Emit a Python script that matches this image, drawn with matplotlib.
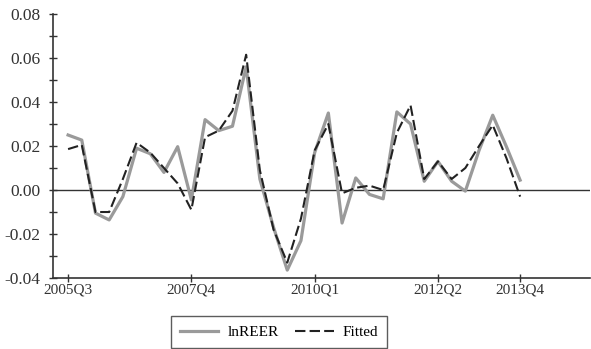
import numpy as np
import matplotlib
matplotlib.use('Agg')
import matplotlib.pyplot as plt

plt.rcParams['font.family'] = ['Liberation Serif', 'DejaVu Serif']

# quarters 2005Q3 .. 2013Q4
quarters = []
for yr in range(2005, 2014):
    for q in range(1, 5):
        if yr == 2005 and q < 3:
            continue
        quarters.append('%dQ%d' % (yr, q))

lnreer = [0.025, 0.0227, -0.0105, -0.0136, -0.003, 0.019, 0.0165, 0.008,
          0.0197, -0.0045, 0.032, 0.027, 0.029, 0.056, 0.005, -0.017,
          -0.0364, -0.023, 0.017, 0.035, -0.015, 0.0055, -0.002, -0.004,
          0.0355, 0.030, 0.004, 0.013, 0.004, -0.0005, 0.018, 0.034,
          0.0197, 0.0045]
fitted = [0.0186, 0.0205, -0.010, -0.010, 0.005, 0.0215, 0.017, 0.010,
          0.003, -0.009, 0.024, 0.027, 0.036, 0.0615, 0.009, -0.018,
          -0.033, -0.013, 0.018, 0.030, -0.0015, 0.001, 0.002, 0.000,
          0.026, 0.0385, 0.005, 0.013, 0.005, 0.010, 0.020, 0.0295,
          0.0145, -0.003]

tick_labels = ['2005Q3', '2007Q4', '2010Q1', '2012Q2', '2013Q4']
tick_pos = [quarters.index(t) for t in tick_labels]

x = np.arange(len(quarters))

fig = plt.figure(figsize=(5.91, 3.49), dpi=100)
ax = fig.add_axes([0.0897, 0.2034, 0.9086, 0.7564])

ax.axhline(0, color='#333333', linewidth=1.0)
ax.plot(x, lnreer, color='#9a9a9a', linewidth=2.3, label='lnREER')
ax.plot(x, fitted, color='#222222', linewidth=1.5, dashes=(5, 2), label='Fitted')

ax.set_xlim(-1.1, 38.1)
ax.set_ylim(-0.04, 0.08)
ax.set_xticks(tick_pos)
ax.set_xticklabels(tick_labels)
ax.set_yticks(np.arange(-0.04, 0.081, 0.02))
ax.set_yticks(np.arange(-0.04, 0.081, 0.01), minor=True)
ax.yaxis.set_major_formatter(matplotlib.ticker.FormatStrFormatter('%.2f'))

for s in ['top', 'right']:
    ax.spines[s].set_visible(False)
for s in ['left', 'bottom']:
    ax.spines[s].set_color('#333333')
    ax.spines[s].set_linewidth(1.2)

ax.tick_params(axis='both', which='both', direction='inout', length=6,
               width=1, color='#333333', labelcolor='#333333')
ax.tick_params(axis='x', labelsize=11, pad=1)
ax.tick_params(axis='y', labelsize=12.5, pad=6)

leg = ax.legend(loc='upper center', bbox_to_anchor=(0.421, -0.115), ncol=2,
                frameon=True, fancybox=False, fontsize=11,
                handlelength=2.5, handletextpad=0.6, columnspacing=1.1,
                borderpad=0.6)
leg.get_frame().set_edgecolor('#333333')
leg.get_frame().set_linewidth(1.0)

plt.savefig('out.png', dpi=100)
